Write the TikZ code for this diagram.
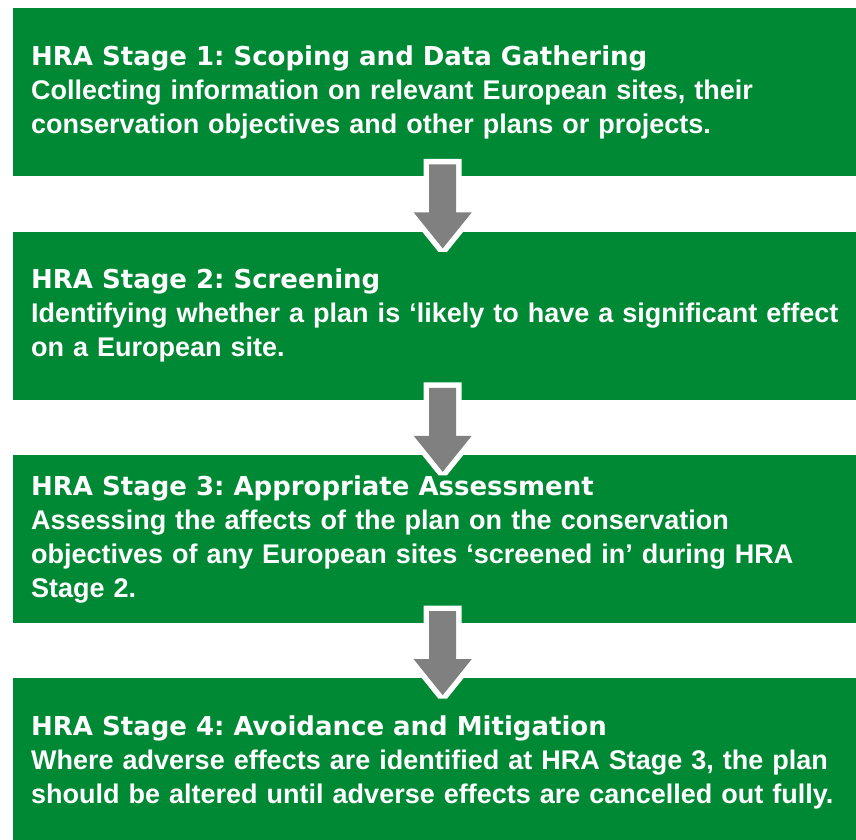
\documentclass[tikz,border=0pt]{standalone}
\usepackage{fontspec}
\setmainfont{Liberation Sans}
\newfontfamily\headfont{DejaVu Sans}
\usepackage{tikz}
\usepackage{xcolor}
\usetikzlibrary{positioning,calc}
\frenchspacing

\definecolor{stagegreen}{RGB}{0,137,52}
\definecolor{arrowgray}{RGB}{128,128,128}

\tikzset{
  stagebox/.style={fill=stagegreen, text=white, align=left,
    text width=823pt, inner xsep=18pt, inner ysep=0pt,
    minimum height=168pt, font=\fontsize{27}{34}\selectfont\bfseries},
  stagearrow/.style={fill=arrowgray,
    preaction={draw=white, line width=11pt, line join=miter, miter limit=1.5}}
}
\newcommand{\stagehead}[1]{{\headfont\fontsize{26}{34}\selectfont #1}}

\begin{document}
\begin{tikzpicture}[x=1pt,y=1pt,node distance=55pt]
\useasboundingbox (0,0) rectangle (856,-839);
\node[stagebox, anchor=north west] (s1) at (13,-8)
  {\stagehead{HRA Stage 1: Scoping and Data Gathering}\\
   Collecting information on relevant European sites, their\\
   conservation objectives and other plans or projects.};
\node[stagebox, below=of s1] (s2)
  {\stagehead{HRA Stage 2: Screening}\\
   Identifying whether a plan is ‘likely to have a significant effect\\
   on a European site.};
\node[stagebox, below=of s2] (s3)
  {\stagehead{HRA Stage 3: Appropriate Assessment}\\
   Assessing the affects of the plan on the conservation\\
   objectives of any European sites ‘screened in’ during HRA\\
   Stage 2.};
\node[stagebox, below=of s3] (s4)
  {\stagehead{HRA Stage 4: Avoidance and Mitigation}\\
   Where adverse effects are identified at HRA Stage 3, the plan\\
   should be altered until adverse effects are cancelled out fully.};
% block arrows between the stages
\foreach \a/\b in {s1/s2,s2/s3,s3/s4}{
  \fill[stagearrow] ($(\a.south)+(-13.5,12)$) -- ($(\b.north)+(-13.5,19)$)
    -- ++(-15.5,0) -- ($(\b.north)+(0,-17)$) -- ($(\b.north)+(29,19)$)
    -- ++(-15.5,0) -- ($(\a.south)+(13.5,12)$) -- cycle;
}
\end{tikzpicture}
\end{document}
